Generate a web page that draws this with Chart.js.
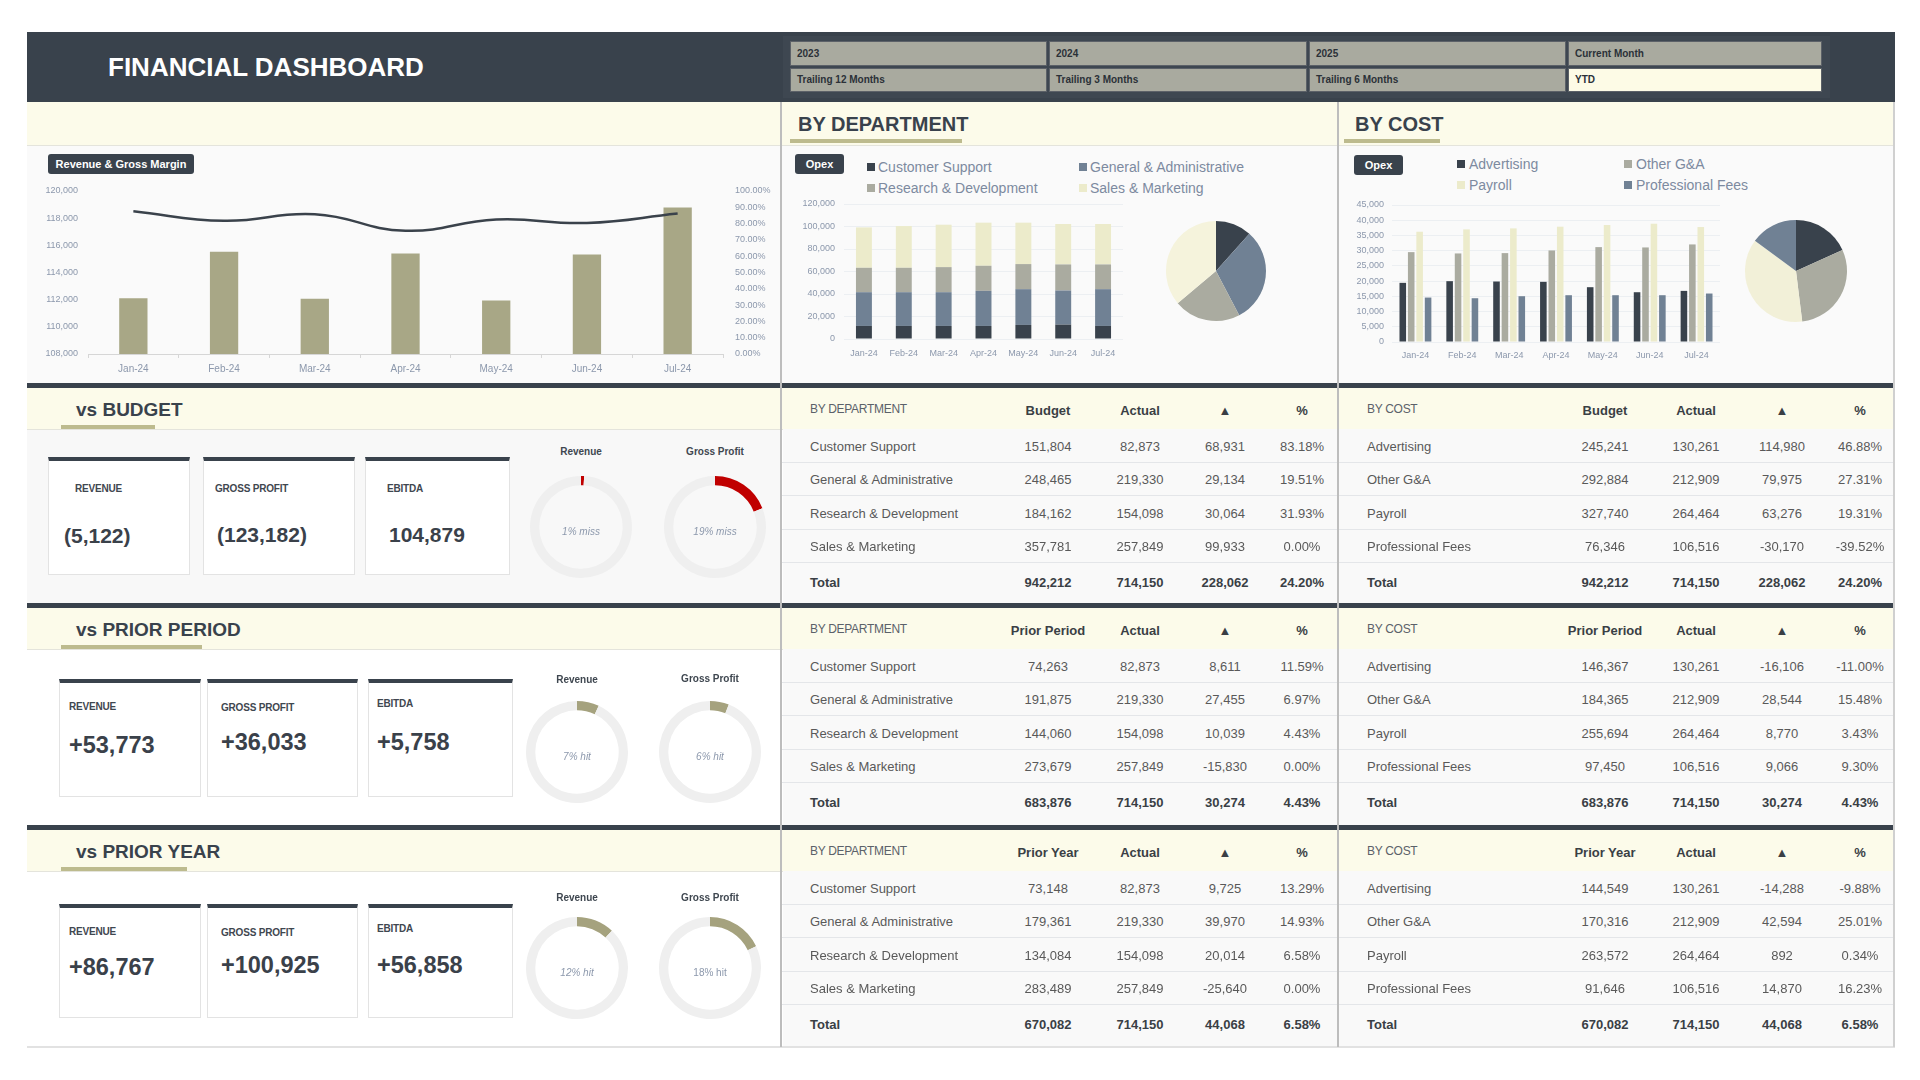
<!DOCTYPE html>
<html><head><meta charset="utf-8">
<script src="https://cdn.jsdelivr.net/npm/chart.js@4.4.1/dist/chart.umd.min.js"></script>
<style>
html,body{margin:0;padding:0;background:#fff;}
#root{position:relative;width:1920px;height:1080px;overflow:hidden;font-family:"Liberation Sans",Arial,sans-serif;}
#root div{position:absolute;box-sizing:border-box;}
#root .t{white-space:nowrap;line-height:1;}
</style></head><body><div id="root"></div>
<script>
// ---------- DATA ----------
const months = ['Jan-24','Feb-24','Mar-24','Apr-24','May-24','Jun-24','Jul-24'];
const revenue = [112100, 115530, 112060, 115400, 111930, 115330, 118780];
const grossMarginPct = [87.6, 81.7, 85.7, 75.6, 82.5, 80.4, 86.2];

const deptNames = ['Customer Support','General & Administrative','Research & Development','Sales & Marketing'];
const csMonthly = [11600, 11600, 11600, 11600, 12500, 12800, 11600];
const gaMonthly = [30000, 30000, 30000, 31200, 31800, 30300, 32700];
const rdMonthly = [21700, 21700, 22300, 22300, 22300, 23200, 22000];
const smMonthly = [35900, 37100, 37700, 38300, 36800, 35900, 35900];

const costNames = ['Advertising','Other G&A','Payroll','Professional Fees'];
const advMonthly = [19430, 19980, 19870, 19760, 18000, 16350, 16790];
const otherMonthly = [29520, 29090, 29200, 30070, 31170, 31060, 32050];
const payrollMonthly = [36220, 36990, 37320, 37870, 38420, 38850, 37760];
const feesMonthly = [14600, 14380, 15040, 15370, 15370, 15370, 15920];

const deptActual = [82873, 219330, 154098, 257849];
const costActual = [130261, 212909, 264464, 106516];
const actualTotal = 714150;

const deptBudget = [151804, 248465, 184162, 357781];
const deptBudgetDelta = [68931, 29134, 30064, 99933];
const deptBudgetPct = [83.18, 19.51, 31.93, 0.00];
const costBudget = [245241, 292884, 327740, 76346];
const costBudgetDelta = [114980, 79975, 63276, -30170];
const costBudgetPct = [46.88, 27.31, 19.31, -39.52];
const budgetTotals = [942212, 714150, 228062, 24.20];

const deptPriorPeriod = [74263, 191875, 144060, 273679];
const deptPPDelta = [8611, 27455, 10039, -15830];
const deptPPPct = [11.59, 6.97, 4.43, 0.00];
const costPriorPeriod = [146367, 184365, 255694, 97450];
const costPPDelta = [-16106, 28544, 8770, 9066];
const costPPPct = [-11.00, 15.48, 3.43, 9.30];
const ppTotals = [683876, 714150, 30274, 4.43];

const deptPriorYear = [73148, 179361, 134084, 283489];
const deptPYDelta = [9725, 39970, 20014, -25640];
const deptPYPct = [13.29, 14.93, 6.58, 0.00];
const costPriorYear = [144549, 170316, 263572, 91646];
const costPYDelta = [-14288, 42594, 892, 14870];
const costPYPct = [-9.88, 25.01, 0.34, 16.23];
const pyTotals = [670082, 714150, 44068, 6.58];

const kpiLabels = ['REVENUE','GROSS PROFIT','EBITDA'];
const kpiBudget = [-5122, -123182, 104879];
const kpiPriorPeriod = [53773, 36033, 5758];
const kpiPriorYear = [86767, 100925, 56858];

const gaugeLabels = ['Revenue','Gross Profit'];
const gaugeBudget = [1, 19];
const gaugePriorPeriod = [7, 6];
const gaugePriorYear = [12, 18];

const filterRow1 = ['2023','2024','2025','Current Month'];
const filterRow2 = ['Trailing 12 Months','Trailing 3 Months','Trailing 6 Months','YTD'];

// ---------- STYLE ----------
const DARK='#39424C', OLIVE='#A8A786', CREAM='#FCFBEA', TICK='#8C98AC';
const C_CS='#39424C', C_GA='#708194', C_RD='#AAABA0', C_SM='#ECEBCB';
Chart.defaults.font.family='"Liberation Sans", Arial, sans-serif';
Chart.defaults.plugins.legend.display=false;
Chart.defaults.plugins.tooltip.enabled=false;
Chart.defaults.color=TICK;

const root=document.getElementById('root');
function box(x,y,w,h,css){const d=document.createElement('div');d.style.cssText=`left:${x}px;top:${y}px;width:${w}px;height:${h}px;${css||''}`;root.appendChild(d);return d;}
function txt(x,y,s,css,align){const d=document.createElement('div');d.className='t';d.textContent=s;
  const tx=align==='c'?'-50%':align==='r'?'-100%':'0';
  d.style.cssText=`left:${x}px;top:${y}px;transform:translate(${tx},-50%);${css||''}`;root.appendChild(d);return d;}
function chartBox(x,y,w,h,cfg){const d=box(x,y,w,h,'');const c=document.createElement('canvas');d.appendChild(c);
  cfg.options=Object.assign({responsive:true,maintainAspectRatio:false,animation:false,events:[]},cfg.options||{});return new Chart(c,cfg);}
const fmt=v=>v.toLocaleString('en-US');
const pct=v=>v.toFixed(2)+'%';
// fixed-width vertical axis with no extra label padding
const vFit=w=>function(s){s.width=w;s.paddingTop=0;s.paddingBottom=0;};

// ---------- BACKGROUNDS ----------
box(27,32,1868,70,'background:'+DARK);
box(783,36,1047,62,'background:#3E4751');
box(27,102,1868,44,'background:'+CREAM+';border-bottom:1px solid #E4E4DC');
box(27,146,1868,237,'background:#FAFAFA');
box(27,383,1868,5,'background:'+DARK);
box(27,388,1868,42,'background:'+CREAM+';border-bottom:1px solid #E4E4DC');
box(27,430,754,173,'background:#F8F8F8');
box(783,429,1112,174,'background:#F9F9F9');
box(27,603,1868,5,'background:'+DARK);
box(27,608,1868,42,'background:'+CREAM+';border-bottom:1px solid #E4E4DC');
box(783,649,1112,176,'background:#F9F9F9');
box(27,825,1868,5,'background:'+DARK);
box(27,830,1868,42,'background:'+CREAM+';border-bottom:1px solid #E4E4DC');
box(783,871,1112,176,'background:#F9F9F9');
box(27,1046,1868,2,'background:#E2E2E2');
box(780,102,2,945,'background:#BDBDBD');
box(1337,102,2,945,'background:#BDBDBD');
box(1893,102,2,945,'background:#D0D0D0');

// ---------- HEADER ----------
txt(108,67,'FINANCIAL DASHBOARD','color:#fff;font-weight:bold;font-size:26px;');
const fx=[790,1049,1309,1568], fw=[257,258,257,254];
filterRow1.forEach((s,i)=>{box(fx[i],41,fw[i],25,'background:#A9AA9F;border:1px solid #5C6168');
  txt(fx[i]+7,54,s,'font-size:10px;font-weight:bold;color:#2B3138');});
filterRow2.forEach((s,i)=>{box(fx[i],68,fw[i],24,'background:'+(i===3?'#FDFBE6':'#A9AA9F')+';border:1px solid #5C6168');
  txt(fx[i]+7,80,s,'font-size:10px;font-weight:bold;color:#2B3138');});

// band titles
txt(798,124,'BY DEPARTMENT','font-size:20px;font-weight:bold;color:'+DARK);
box(790,139,172,4,'background:#BDBB8E');
txt(1355,124,'BY COST','font-size:20px;font-weight:bold;color:'+DARK);
box(1344,139,96,4,'background:#BDBB8E');

// ---------- REVENUE & GROSS MARGIN ----------
box(48,154,146,20,'background:'+DARK+';border-radius:3px');
txt(121,164,'Revenue & Gross Margin','color:#fff;font-weight:bold;font-size:11px','c');
chartBox(30,180,750,200,{type:'bar',
 data:{labels:months,datasets:[
  {type:'line',data:grossMarginPct,yAxisID:'y1',borderColor:'#3A424B',borderWidth:2.5,tension:0.45,pointRadius:0,order:0},
  {type:'bar',data:revenue,yAxisID:'y',backgroundColor:OLIVE,categoryPercentage:0.8,barPercentage:0.39,order:1}]},
 options:{layout:{padding:{top:11}},
  scales:{
   x:{grid:{display:true,drawOnChartArea:false,offset:true,tickLength:4,color:'#D6D6D6'},border:{color:'#D6D6D6'},
      ticks:{font:{size:10},padding:5,color:TICK},afterFit(s){s.height=26;s.paddingLeft=0;s.paddingRight=0;}},
   y:{position:'left',min:108000,max:120000,grid:{display:false,drawTicks:false},border:{display:false},
      ticks:{stepSize:2000,font:{size:9},padding:10,color:TICK,callback:v=>fmt(v)},afterFit:vFit(58)},
   y1:{position:'right',min:0,max:100,grid:{display:false,drawTicks:false},border:{display:false},
      ticks:{stepSize:10,font:{size:9},padding:12,color:TICK,callback:v=>pct(v)},afterFit:vFit(57)}
  }}});

// ---------- BY DEPARTMENT ----------
box(795,154,49,20,'background:'+DARK+';border-radius:3px');
txt(819.5,164,'Opex','color:#fff;font-weight:bold;font-size:11px','c');
const deptColors=[C_CS,C_GA,C_RD,C_SM];
const dLeg=[[867,167],[1079,167],[867,188],[1079,188]];
deptNames.forEach((n,i)=>{box(dLeg[i][0],dLeg[i][1]-4,8,8,'background:'+deptColors[i]);
  txt(dLeg[i][0]+11,dLeg[i][1],n,'font-size:14px;color:#7D8AA0');});
const deptMonthly=[csMonthly,gaMonthly,rdMonthly,smMonthly];
chartBox(790,196,350,174,{type:'bar',
 data:{labels:months,datasets:deptNames.map((n,i)=>({label:n,data:deptMonthly[i],backgroundColor:deptColors[i],categoryPercentage:0.8,barPercentage:0.5}))},
 options:{layout:{padding:{top:8,right:17}},
  scales:{
   x:{stacked:true,grid:{display:false},border:{display:false},ticks:{font:{size:9},padding:1,color:TICK},afterFit(s){s.height=31;s.paddingLeft=0;s.paddingRight=0;}},
   y:{stacked:true,min:0,max:120000,grid:{color:'#ECEFF2',drawTicks:false},border:{display:false},
      ticks:{stepSize:20000,font:{size:9},padding:9,color:TICK,callback:v=>fmt(v)},afterFit:vFit(54)}
  }}});
chartBox(1161,216,110,110,{type:'pie',
 data:{labels:deptNames,datasets:[{data:deptActual,backgroundColor:['#39424C','#708194','#AAABA0','#F5F3DC'],borderWidth:0}]},
 options:{radius:50}});

// ---------- BY COST ----------
box(1354,155,49,20,'background:'+DARK+';border-radius:3px');
txt(1378.5,165,'Opex','color:#fff;font-weight:bold;font-size:11px','c');
const costColors=['#39424C','#AAABA0','#ECEBCB','#708194'];
const cLeg=[[1457,164],[1624,164],[1457,185],[1624,185]];
costNames.forEach((n,i)=>{box(cLeg[i][0],cLeg[i][1]-4,8,8,'background:'+costColors[i]);
  txt(cLeg[i][0]+12,cLeg[i][1],n,'font-size:14px;color:#7D8AA0');});
const costMonthly=[advMonthly,otherMonthly,payrollMonthly,feesMonthly];
chartBox(1345,196,395,179,{type:'bar',
 data:{labels:months,datasets:costNames.map((n,i)=>({label:n,data:costMonthly[i],backgroundColor:costColors[i],categoryPercentage:0.72,barPercentage:0.78}))},
 options:{layout:{padding:{top:9,right:20}},
  scales:{
   x:{grid:{display:false},border:{display:false},ticks:{font:{size:9},padding:0,color:TICK},afterFit(s){s.height=33;s.paddingLeft=0;s.paddingRight=0;}},
   y:{min:0,max:45000,grid:{color:'#ECEFF2',drawTicks:false},border:{display:false},
      ticks:{stepSize:5000,font:{size:9},padding:8,color:TICK,callback:v=>fmt(v)},afterFit:vFit(47)}
  }}});
chartBox(1741,216,110,110,{type:'pie',
 data:{labels:costNames,datasets:[{data:costActual,backgroundColor:['#39424C','#AAABA0','#F2F0D8','#708194'],borderWidth:0}]},
 options:{radius:51}});

// ---------- SECTIONS ----------
function sectionTitle(y,s,uw){txt(76,y,s,'font-size:19px;font-weight:bold;color:'+DARK);box(61,y+16,uw,4,'background:#BDBB8E');}
sectionTitle(409,'vs BUDGET',94);
sectionTitle(629,'vs PRIOR PERIOD',141);
sectionTitle(851,'vs PRIOR YEAR',126);

function cards(cardX,cardW,top,bottom,labelPos,valuePos,vals,fmtFn,vSize){
  kpiLabels.forEach((l,i)=>{
    box(cardX[i],top,cardW[i],bottom-top,'background:#fff;border:1px solid #E3E3E3;border-top:4px solid '+DARK);
    txt(labelPos[i][0],labelPos[i][1],l,'font-size:10px;font-weight:bold;color:#3F4750;letter-spacing:-0.2px');
    txt(valuePos[i][0],valuePos[i][1],fmtFn(vals[i]),'font-size:'+vSize+'px;font-weight:bold;color:#3A414A');
  });
}
const fmtBudget=v=>v<0?'('+fmt(-v)+')':fmt(v);
const fmtPlus=v=>'+'+fmt(v);
cards([48,203,365],[142,152,145],457,575,[[75,489],[215,489],[387,489]],[[64,535],[217,534],[389,534]],kpiBudget,fmtBudget,21);
cards([59,207,368],[142,151,145],679,797,[[69,707],[221,708],[377,704]],[[69,746],[221,743],[377,743]],kpiPriorPeriod,fmtPlus,23.5);
cards([59,207,368],[142,151,145],904,1018,[[69,932],[221,933],[377,929]],[[69,968],[221,966],[377,966]],kpiPriorYear,fmtPlus,23.5);

function gauge(cx,cy,labelY,label,value,color,word,italic){
  chartBox(cx-55,cy-55,110,110,{type:'doughnut',
    data:{labels:[label,''],datasets:[{data:[value,100-value],backgroundColor:[color,'#EFEFEF'],borderWidth:0}]},
    options:{radius:51,cutout:45}});
  txt(cx,labelY,label,'font-size:10px;font-weight:bold;color:#3F4750','c');
  txt(cx,cy+5,value+'% '+word,'font-size:10px;color:#8C98AC;'+(italic?'font-style:italic;':''),'c');
}
gauge(581,527,452,gaugeLabels[0],gaugeBudget[0],'#C00000','miss',true);
gauge(715,527,452,gaugeLabels[1],gaugeBudget[1],'#C00000','miss',true);
gauge(577,752,680,gaugeLabels[0],gaugePriorPeriod[0],'#A5A27E','hit',true);
gauge(710,752,679,gaugeLabels[1],gaugePriorPeriod[1],'#A5A27E','hit',true);
gauge(577,968,898,gaugeLabels[0],gaugePriorYear[0],'#A5A27E','hit',true);
gauge(710,968,898,gaugeLabels[1],gaugePriorYear[1],'#A5A27E','hit',false);

// ---------- TABLES ----------
function table(x0,x1,y0,labelX,centers,title,headers,names,cols,totals){
  txt(labelX,y0+21,title,'font-size:12px;color:#5B6169;letter-spacing:-0.3px');
  headers.forEach((h,i)=>txt(centers[i],y0+22,h,'font-size:13px;font-weight:bold;color:#3A3F45','c'));
  const rowCss='font-size:13px;color:#595959', RH=33.5;
  names.forEach((n,r)=>{
    const top=y0+41+RH*r, yc=top+RH/2;
    box(x0,Math.round(top+RH-1),x1-x0,1,'background:#E4E6E9');
    txt(labelX,yc,n,rowCss);
    cols.forEach((arr,i)=>txt(centers[i],yc,i===3?pct(arr[r]):fmt(arr[r]),rowCss,'c'));
  });
  const ty=y0+41+RH*4+19;
  const totCss='font-size:13px;font-weight:bold;color:#3A3F45';
  txt(labelX,ty,'Total',totCss);
  totals.forEach((v,i)=>txt(centers[i],ty,i===3?pct(v):fmt(v),totCss,'c'));
}
const dC=[1048,1140,1225,1302], cC=[1605,1696,1782,1860];
table(782,1337,388,810,dC,'BY DEPARTMENT',['Budget','Actual','▲','%'],deptNames,[deptBudget,deptActual,deptBudgetDelta,deptBudgetPct],budgetTotals);
table(1339,1893,388,1367,cC,'BY COST',['Budget','Actual','▲','%'],costNames,[costBudget,costActual,costBudgetDelta,costBudgetPct],budgetTotals);
table(782,1337,608,810,dC,'BY DEPARTMENT',['Prior Period','Actual','▲','%'],deptNames,[deptPriorPeriod,deptActual,deptPPDelta,deptPPPct],ppTotals);
table(1339,1893,608,1367,cC,'BY COST',['Prior Period','Actual','▲','%'],costNames,[costPriorPeriod,costActual,costPPDelta,costPPPct],ppTotals);
table(782,1337,830,810,dC,'BY DEPARTMENT',['Prior Year','Actual','▲','%'],deptNames,[deptPriorYear,deptActual,deptPYDelta,deptPYPct],pyTotals);
table(1339,1893,830,1367,cC,'BY COST',['Prior Year','Actual','▲','%'],costNames,[costPriorYear,costActual,costPYDelta,costPYPct],pyTotals);
</script></body></html>
